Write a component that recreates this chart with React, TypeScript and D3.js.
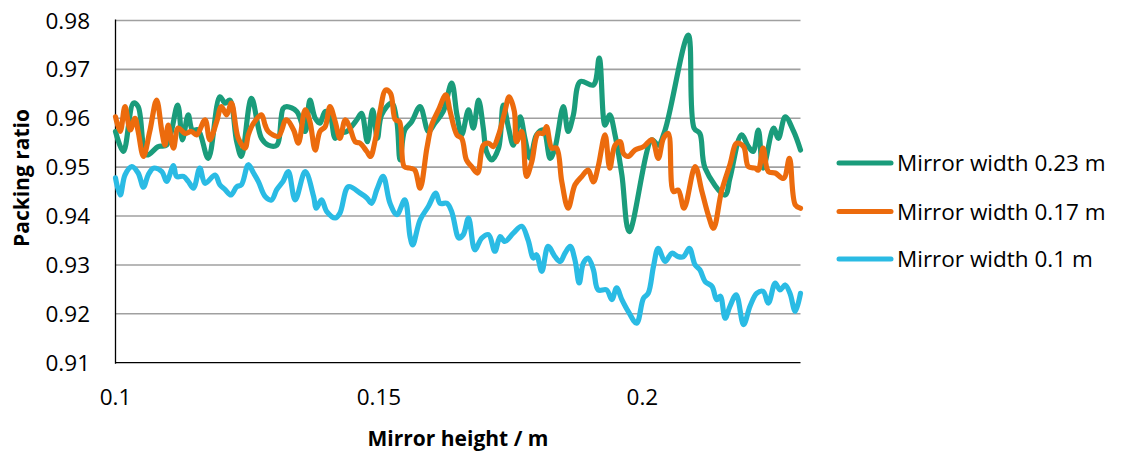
import React from "react";
import * as d3 from "d3";

// Packing ratio vs. mirror height for three mirror widths
const yTicks = [0.91, 0.92, 0.93, 0.94, 0.95, 0.96, 0.97, 0.98];
const xTicks = [0.1, 0.15, 0.2];
const xTickLabels = ["0.1", "0.15", "0.2"];
const seriesNames = ["Mirror width 0.23 m", "Mirror width 0.17 m", "Mirror width 0.1 m"];
const seriesColors = ["#1a9c7b", "#ec6b0d", "#2abbe4"];

// [mirror height (m), packing ratio]
const width023: [number, number][] = [
  [0.1, 0.9573], [0.1015, 0.9532], [0.1034, 0.9631], [0.1043, 0.9624], [0.1059, 0.9525],
  [0.1081, 0.9542], [0.1097, 0.9545], [0.1118, 0.9627], [0.1127, 0.9556], [0.1138, 0.9607],
  [0.1146, 0.9576], [0.1157, 0.9576], [0.1176, 0.9518], [0.1198, 0.9644], [0.1208, 0.9631],
  [0.1217, 0.9637], [0.123, 0.9552], [0.1239, 0.9522], [0.1258, 0.9641], [0.1277, 0.9559],
  [0.129, 0.9545], [0.1306, 0.9545], [0.1318, 0.962], [0.1325, 0.9624], [0.1344, 0.9614],
  [0.136, 0.9573], [0.1369, 0.9637], [0.1379, 0.96], [0.1388, 0.959], [0.1398, 0.9614],
  [0.1407, 0.9607], [0.1417, 0.9559], [0.1426, 0.9569], [0.1439, 0.9573], [0.1448, 0.9583],
  [0.1458, 0.9597], [0.1467, 0.961], [0.1478, 0.9552], [0.1488, 0.9617], [0.1497, 0.9559],
  [0.1505, 0.9607], [0.1524, 0.9631], [0.1534, 0.9593], [0.154, 0.9515], [0.1549, 0.9576],
  [0.1562, 0.9593], [0.1578, 0.9624], [0.1594, 0.9573], [0.1606, 0.959], [0.1622, 0.9614],
  [0.1638, 0.9672], [0.1648, 0.9607], [0.1657, 0.9566], [0.167, 0.9617], [0.1679, 0.958],
  [0.1689, 0.9637], [0.1698, 0.958], [0.1704, 0.9532], [0.1714, 0.9515], [0.1727, 0.9539],
  [0.1736, 0.9627], [0.1746, 0.958], [0.1755, 0.9545], [0.1768, 0.9603], [0.1777, 0.9559],
  [0.1787, 0.9518], [0.1799, 0.9566], [0.1812, 0.9576], [0.1825, 0.9518], [0.1834, 0.9539],
  [0.185, 0.9624], [0.1859, 0.9573], [0.1869, 0.9607], [0.1882, 0.9675], [0.1907, 0.9668],
  [0.1918, 0.9723], [0.1929, 0.9586], [0.1938, 0.9607], [0.1948, 0.9566], [0.1961, 0.9484],
  [0.1975, 0.9368], [0.2018, 0.9556], [0.203, 0.9545], [0.2043, 0.9576], [0.2087, 0.977],
  [0.2098, 0.958], [0.2109, 0.9569], [0.2119, 0.9498], [0.2157, 0.9443], [0.2166, 0.9477],
  [0.2188, 0.9566], [0.2201, 0.9542], [0.221, 0.9532], [0.222, 0.9576], [0.2229, 0.9498],
  [0.2249, 0.958], [0.2258, 0.9559], [0.2271, 0.9603], [0.2287, 0.9573], [0.23, 0.9535],
];

const width017: [number, number][] = [
  [0.1, 0.9603], [0.1009, 0.9573], [0.1018, 0.9624], [0.1028, 0.9576], [0.1037, 0.96],
  [0.1043, 0.9573], [0.1053, 0.9522], [0.1065, 0.9573], [0.1078, 0.9637], [0.1088, 0.9573],
  [0.1094, 0.9545], [0.11, 0.9586], [0.111, 0.9539], [0.1119, 0.958], [0.1132, 0.9569],
  [0.1144, 0.9573], [0.1154, 0.9566], [0.117, 0.9597], [0.1179, 0.9556], [0.1192, 0.9593],
  [0.1201, 0.9624], [0.1211, 0.9607], [0.122, 0.9631], [0.1233, 0.9559], [0.1246, 0.9539],
  [0.1252, 0.9566], [0.1262, 0.959], [0.1277, 0.9607], [0.1284, 0.9586], [0.129, 0.9573],
  [0.1309, 0.9563], [0.1324, 0.9597], [0.1338, 0.9576], [0.1347, 0.9549], [0.136, 0.9617],
  [0.1369, 0.9593], [0.1379, 0.9535], [0.1388, 0.9573], [0.1398, 0.9583], [0.1407, 0.9624],
  [0.1417, 0.9593], [0.1426, 0.9559], [0.1436, 0.9597], [0.1445, 0.958], [0.1455, 0.9552],
  [0.1464, 0.9549], [0.1477, 0.9532], [0.1484, 0.9522], [0.1493, 0.9556], [0.1502, 0.9614],
  [0.1513, 0.9658], [0.1522, 0.9651], [0.1531, 0.9597], [0.1539, 0.9593], [0.1548, 0.9501],
  [0.1559, 0.9498], [0.1568, 0.9494], [0.1578, 0.9457], [0.1591, 0.9539], [0.16, 0.9586],
  [0.1613, 0.9617], [0.1627, 0.9648], [0.1635, 0.9614], [0.1648, 0.9566], [0.1657, 0.9559],
  [0.1666, 0.9515], [0.1676, 0.9501], [0.1687, 0.9488], [0.1698, 0.9545], [0.1708, 0.9549],
  [0.1717, 0.9542], [0.1727, 0.9566], [0.1739, 0.9614], [0.1747, 0.9644], [0.1757, 0.9614],
  [0.1761, 0.9552], [0.1771, 0.9573], [0.178, 0.9481], [0.179, 0.9511], [0.1802, 0.9569],
  [0.1812, 0.9569], [0.1818, 0.9583], [0.1828, 0.9539], [0.1837, 0.9539], [0.1847, 0.947],
  [0.1859, 0.9416], [0.1872, 0.9464], [0.1885, 0.9481], [0.1897, 0.9494], [0.1907, 0.947],
  [0.1916, 0.9501], [0.1929, 0.9566], [0.1938, 0.9498], [0.1948, 0.9545], [0.1958, 0.9552],
  [0.1964, 0.9528], [0.1973, 0.9522], [0.1986, 0.9535], [0.2002, 0.9542], [0.2018, 0.9556],
  [0.203, 0.9518], [0.204, 0.9559], [0.2049, 0.9569], [0.2059, 0.945], [0.2068, 0.9453],
  [0.2079, 0.9416], [0.21, 0.9501], [0.2113, 0.945], [0.2125, 0.9402], [0.2135, 0.9375],
  [0.215, 0.945], [0.2166, 0.9505], [0.2179, 0.9549], [0.2192, 0.9542], [0.2201, 0.9501],
  [0.2214, 0.9498], [0.222, 0.9494], [0.2229, 0.9539], [0.2239, 0.9491], [0.2252, 0.9488],
  [0.2268, 0.9477], [0.2279, 0.9518], [0.229, 0.9423], [0.23, 0.9416],
];

const width010: [number, number][] = [
  [0.1, 0.9478], [0.1009, 0.9443], [0.1018, 0.9484], [0.1031, 0.9501], [0.1043, 0.9488],
  [0.1053, 0.9459], [0.1062, 0.9484], [0.1072, 0.9498], [0.1088, 0.9491], [0.1097, 0.9471],
  [0.111, 0.9503], [0.1116, 0.9481], [0.1129, 0.9481], [0.1138, 0.9471], [0.1148, 0.9457],
  [0.116, 0.9498], [0.117, 0.9467], [0.1189, 0.9484], [0.1198, 0.9464], [0.1208, 0.9454],
  [0.1219, 0.9443], [0.123, 0.946], [0.1239, 0.9464], [0.1252, 0.9505], [0.1262, 0.9488],
  [0.1271, 0.9471], [0.1284, 0.944], [0.1296, 0.9433], [0.1306, 0.9454], [0.1318, 0.9471],
  [0.1328, 0.9491], [0.1341, 0.9433], [0.136, 0.9491], [0.1376, 0.944], [0.1381, 0.9416],
  [0.1391, 0.9433], [0.1401, 0.9409], [0.1417, 0.9396], [0.1426, 0.9406], [0.1442, 0.946],
  [0.1464, 0.9447], [0.1477, 0.9437], [0.1486, 0.9426], [0.1496, 0.9454], [0.1508, 0.9481],
  [0.1521, 0.9426], [0.1534, 0.9403], [0.1549, 0.9433], [0.1559, 0.9358], [0.1564, 0.9341],
  [0.1578, 0.9392], [0.1594, 0.942], [0.1608, 0.9447], [0.1616, 0.9426], [0.1629, 0.9426],
  [0.1638, 0.9409], [0.1648, 0.9362], [0.1651, 0.9355], [0.166, 0.9362], [0.167, 0.9396],
  [0.1682, 0.9331], [0.1695, 0.9355], [0.1708, 0.9362], [0.172, 0.9328], [0.173, 0.9358],
  [0.1739, 0.9348], [0.1755, 0.9365], [0.1771, 0.9379], [0.1783, 0.9351], [0.1793, 0.9314],
  [0.1799, 0.9321], [0.1809, 0.9287], [0.1821, 0.9338], [0.1834, 0.9317], [0.1844, 0.9307],
  [0.1853, 0.9324], [0.1863, 0.9338], [0.1872, 0.931], [0.188, 0.9263], [0.1888, 0.9304],
  [0.1897, 0.9314], [0.1907, 0.929], [0.1916, 0.9249], [0.1932, 0.9249], [0.1942, 0.9229],
  [0.1951, 0.9253], [0.1961, 0.9229], [0.1973, 0.9205], [0.1989, 0.9181], [0.2002, 0.9232],
  [0.2011, 0.9242], [0.2021, 0.9297], [0.203, 0.9334], [0.2043, 0.9307], [0.2056, 0.9324],
  [0.2068, 0.9317], [0.2078, 0.9317], [0.2089, 0.9334], [0.21, 0.93], [0.2109, 0.929],
  [0.2119, 0.9266], [0.2132, 0.9256], [0.2141, 0.9229], [0.2148, 0.9236], [0.2157, 0.9191],
  [0.2166, 0.9215], [0.2178, 0.9239], [0.2192, 0.9178], [0.2204, 0.9215], [0.2217, 0.9242],
  [0.2229, 0.9246], [0.2239, 0.9222], [0.2252, 0.9263], [0.2261, 0.9249], [0.2271, 0.9259],
  [0.228, 0.9242], [0.229, 0.9205], [0.23, 0.9242],
];

const seriesData = [width023, width017, width010];

const W = 1123;
const H = 453;
const plot = { left: 115.5, right: 800.5, top: 20.5, bottom: 362.7 };
const FONT = "'Open Sans', 'DejaVu Sans', sans-serif";

export default function App() {
  const x = d3.scaleLinear().domain([0.1, 0.23]).range([plot.left, plot.right]);
  const y = d3.scaleLinear().domain([0.91, 0.98]).range([plot.bottom, plot.top]);
  const line = d3
    .line<[number, number]>()
    .x((d) => x(d[0]))
    .y((d) => y(d[1]))
    .curve(d3.curveCatmullRom.alpha(0.5));

  const legendY = [163, 211.5, 259];

  return (
    <svg
      width={W}
      height={H}
      viewBox={`0 0 ${W} ${H}`}
      style={{ position: "absolute", left: 0, top: 0, background: "#fff" }}
    >
      {/* horizontal gridlines */}
      {yTicks.slice(1).map((t) => (
        <line
          key={`g${t}`}
          x1={plot.left}
          x2={plot.right}
          y1={y(t)}
          y2={y(t)}
          stroke="#a0a0a0"
          strokeWidth={1.6}
        />
      ))}

      {/* axes */}
      <line x1={plot.left} x2={plot.left} y1={plot.top - 1} y2={plot.bottom + 1} stroke="#000" strokeWidth={1.3} />
      <line x1={plot.left} x2={plot.right} y1={plot.bottom} y2={plot.bottom} stroke="#000" strokeWidth={1.3} />

      {/* y tick labels */}
      {yTicks.map((t) => (
        <text
          key={`yl${t}`}
          x={90}
          y={y(t) + 8}
          textAnchor="end"
          fontFamily={FONT}
          fontSize={22.5}
          fill="#000"
        >
          {d3.format(".2f")(t)}
        </text>
      ))}

      {/* x tick labels */}
      {xTicks.map((t, i) => (
        <text
          key={`xl${t}`}
          x={x(t)}
          y={405}
          textAnchor="middle"
          fontFamily={FONT}
          fontSize={22.5}
          fill="#000"
        >
          {xTickLabels[i]}
        </text>
      ))}

      {/* series */}
      {seriesData.map((d, i) => (
        <path
          key={seriesNames[i]}
          d={line(d) ?? ""}
          fill="none"
          stroke={seriesColors[i]}
          strokeWidth={5.2}
          strokeLinejoin="round"
          strokeLinecap="round"
        />
      ))}

      {/* axis titles */}
      <text
        x={458}
        y={446}
        textAnchor="middle"
        fontFamily={FONT}
        fontWeight="bold"
        fontSize={21}
        fill="#000"
      >
        Mirror height / m
      </text>
      <text
        transform={`translate(29, 178) rotate(-90)`}
        textAnchor="middle"
        fontFamily={FONT}
        fontWeight="bold"
        fontSize={21}
        fill="#000"
      >
        Packing ratio
      </text>

      {/* legend */}
      {seriesNames.map((name, i) => (
        <g key={`lg${name}`}>
          <line
            x1={839}
            x2={891}
            y1={legendY[i]}
            y2={legendY[i]}
            stroke={seriesColors[i]}
            strokeWidth={5}
            strokeLinecap="round"
          />
          <text x={897} y={legendY[i] + 8} fontFamily={FONT} fontSize={22.5} fill="#000">
            {name}
          </text>
        </g>
      ))}
    </svg>
  );
}
